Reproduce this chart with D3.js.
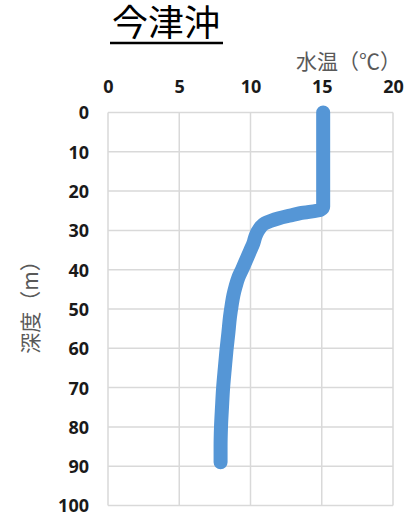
<!DOCTYPE html>
<html>
<head>
    <meta charset="utf-8">
    <title>今津沖</title>
    <script src="https://d3js.org/d3.v7.min.js"></script>
    <style>
        body { margin: 0; background: #fff; }
        .tick-lbl { font-family: "Noto Sans", "DejaVu Sans", sans-serif; font-weight: bold; font-size: 18px; fill: #1a1a1a; }
        .axis-title { font-family: "Noto Sans CJK JP", sans-serif; font-size: 21px; fill: #595959; }
    </style>
</head>
<body>
    <svg width="417" height="513" id="chart"></svg>
    <script>
        // depth (m) and water temp (°C)
        const depth = [0, 5, 10, 15, 20, 24, 24.8, 25.6, 26.2, 26.9, 27.6, 28.2, 29, 30.3, 31.5, 33.3, 35, 37.5, 40, 42, 44.3, 46.5, 49, 52, 56, 61, 65, 70, 75, 80, 85, 89]
        const temp = [15.1, 15.1, 15.1, 15.1, 15.1, 15.1, 14.9, 13.5, 12.8, 12.0, 11.4, 11.0, 10.75, 10.5, 10.35, 10.2, 10.0, 9.7, 9.4, 9.15, 8.95, 8.8, 8.68, 8.56, 8.45, 8.3, 8.2, 8.08, 8.0, 7.93, 7.9, 7.9]
        const xTicks = [0, 5, 10, 15, 20]
        const yTicks = [0, 10, 20, 30, 40, 50, 60, 70, 80, 90, 100]

        const svg = d3.select("#chart")
        const margin = { top: 112.5, left: 108, right: 24, bottom: 7.5 }
        const width = +svg.attr("width")
        const height = +svg.attr("height")
        const innerWidth = width - margin.left - margin.right
        const innerHeight = height - margin.top - margin.bottom

        const xScale = d3.scaleLinear().domain([0, 20]).range([0, innerWidth])
        const yScale = d3.scaleLinear().domain([0, 100]).range([0, innerHeight])

        const g = svg.append("g")
            .attr("transform", `translate(${margin.left},${margin.top})`)

        // grid
        g.selectAll(".vgrid").data(xTicks).enter().append("line")
            .attr("x1", d => xScale(d)).attr("x2", d => xScale(d))
            .attr("y1", 0).attr("y2", innerHeight)
            .attr("stroke", "#d9d9d9").attr("stroke-width", 1.5)
        g.selectAll(".hgrid").data(yTicks).enter().append("line")
            .attr("x1", 0).attr("x2", innerWidth)
            .attr("y1", d => yScale(d)).attr("y2", d => yScale(d))
            .attr("stroke", "#d9d9d9").attr("stroke-width", 1.5)

        // axes (top and left), labels only
        const xAxis = d3.axisTop(xScale).tickValues(xTicks).tickSize(0).tickPadding(20)
        const yAxis = d3.axisLeft(yScale).tickValues(yTicks).tickSize(0).tickPadding(19)
        const gx = g.append("g").call(xAxis)
        const gy = g.append("g").call(yAxis)
        gx.select(".domain").remove()
        gy.select(".domain").remove()
        gx.selectAll("text").attr("class", "tick-lbl").attr("font-family", null).attr("font-size", null)
        gy.selectAll("text").attr("class", "tick-lbl").attr("font-family", null).attr("font-size", null)
            .attr("dy", "0.36em")

        // profile line
        const pts = depth.map((d, i) => [temp[i], d])
        const line = d3.line()
            .x(d => xScale(d[0]))
            .y(d => yScale(d[1]))
            .curve(d3.curveMonotoneY)
        g.append("path")
            .datum(pts)
            .attr("d", line)
            .attr("fill", "none")
            .attr("stroke", "#5596d6")
            .attr("stroke-width", 14)
            .attr("stroke-linecap", "round")
            .attr("stroke-linejoin", "round")

        // title
        svg.append("text")
            .attr("x", 166).attr("y", 36)
            .attr("text-anchor", "middle")
            .attr("font-family", "Noto Sans CJK JP")
            .attr("font-size", 36)
            .attr("fill", "#000")
            .text("今津沖")
        svg.append("line")
            .attr("x1", 110).attr("x2", 223)
            .attr("y1", 43).attr("y2", 43)
            .attr("stroke", "#000").attr("stroke-width", 2.5)

        // axis titles
        svg.append("text")
            .attr("class", "axis-title")
            .attr("x", 401).attr("y", 69)
            .attr("text-anchor", "end")
            .text("水温（℃）")
        svg.append("text")
            .attr("class", "axis-title")
            .attr("transform", "translate(38,302) rotate(-90)")
            .attr("text-anchor", "middle")
            .text("深度（m）")
    </script>
</body>
</html>
